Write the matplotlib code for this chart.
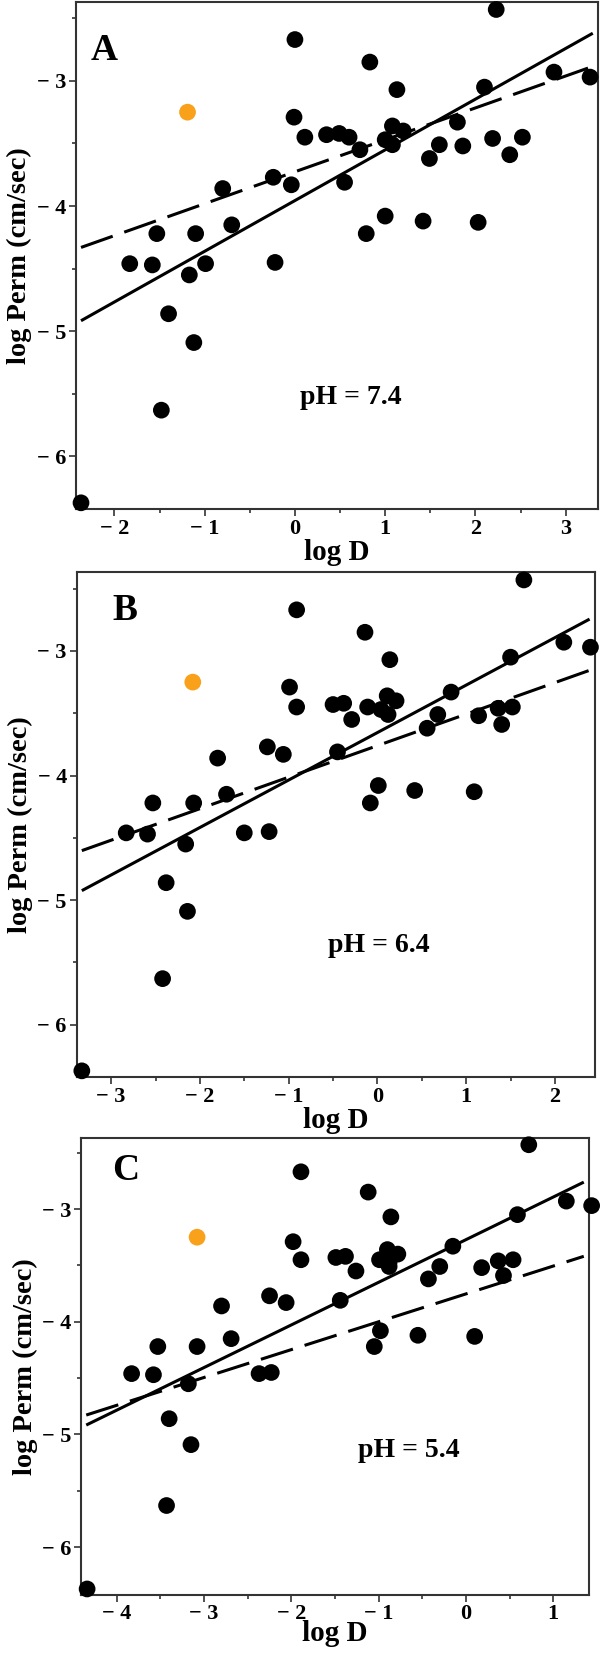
import matplotlib
matplotlib.use("Agg")
import matplotlib.pyplot as plt
import numpy as np
from matplotlib.ticker import MultipleLocator

plt.rcParams["font.family"] = ["Liberation Serif", "DejaVu Serif"]
plt.rcParams["font.weight"] = "bold"

# log Perm (cm/sec), same compounds in every panel
perm = [-2.43, -2.67, -2.85, -2.93, -2.97, -3.07, -3.05, -3.25, -3.29, -3.36,
        -3.40, -3.45, -3.43, -3.42, -3.45, -3.47, -3.33, -3.46, -3.45, -3.51,
        -3.55, -3.51, -3.52, -3.59, -3.62, -3.77, -3.83, -3.81, -3.86, -4.08,
        -4.12, -4.13, -4.15, -4.22, -4.22, -4.22, -4.46, -4.47, -4.46, -4.45,
        -4.55, -4.86, -5.09, -5.63, -6.37]

# log D at the three pH values
logd_74 = [2.23, 0.00, 0.83, 2.87, 3.27, 1.13, 2.10, -1.19, -0.01, 1.08,
           1.20, 0.11, 0.35, 0.49, 0.60, 1.00, 1.80, 2.19, 2.52, 1.08,
           0.72, 1.60, 1.86, 2.38, 1.49, -0.24, -0.04, 0.55, -0.80, 1.00,
           1.42, 2.03, -0.70, -1.53, -1.10, 0.79, -1.83, -1.58, -0.99, -0.22,
           -1.17, -1.40, -1.12, -1.48, -2.37]
logd_64 = [1.65, -0.91, -0.14, 2.10, 2.40, 0.14, 1.50, -2.08, -0.99, 0.11,
           0.21, -0.91, -0.50, -0.38, -0.11, 0.04, 0.83, 1.36, 1.52, 0.12,
           -0.29, 0.68, 1.14, 1.40, 0.56, -1.24, -1.06, -0.45, -1.80, 0.01,
           0.42, 1.09, -1.70, -2.53, -2.07, -0.08, -2.83, -2.59, -1.50, -1.22,
           -2.16, -2.38, -2.14, -2.42, -3.33]
logd_54 = [0.72, -1.89, -1.12, 1.15, 1.44, -0.86, 0.59, -3.08, -1.98, -0.90,
           -0.78, -1.89, -1.49, -1.38, -0.99, -0.88, -0.15, 0.37, 0.54, -0.88,
           -1.26, -0.30, 0.18, 0.43, -0.43, -2.25, -2.06, -1.44, -2.80, -0.98,
           -0.55, 0.10, -2.69, -3.53, -3.08, -1.05, -3.83, -3.58, -2.37, -2.23,
           -3.18, -3.40, -3.15, -3.43, -4.34]

highlight = 7  # orange compound

# regression lines (slope, intercept)
solid_fits = [(0.405, -3.956), (0.381, -3.655), (0.378, -3.272)]
dashed_fits = [(0.255, -3.726), (0.253, -3.760), (0.247, -3.753)]

panel_letters = ["A", "B", "C"]
ph_labels = ["pH = 7.4", "pH = 6.4", "pH = 5.4"]
ph_pos = [(0.62, -5.53), (0.02, -5.36), (-0.66, -5.14)]
letter_pos = [(0.055, 0.905), (0.094, 0.925), (0.088, 0.928)]
xlims = [(-2.43, 3.36), (-3.39, 2.45), (-4.41, 1.41)]
ylim = (-6.42, -2.37)

rects = [[0.126, 0.6924, 0.871, 0.3064],
         [0.1275, 0.3492, 0.864, 0.3049],
         [0.135, 0.0365, 0.8467, 0.2759]]

fig = plt.figure(figsize=(6, 16.55), dpi=100)
orange = "#F9A11B"

for i, logd in enumerate([logd_74, logd_64, logd_54]):
    ax = fig.add_axes(rects[i])
    x = np.array(logd)
    y = np.array(perm)
    cols = ["black"] * len(x)
    cols[highlight] = orange
    ax.scatter(x, y, s=145, c=cols, edgecolors="none", zorder=3, clip_on=False)

    xl = np.array([xlims[i][0] + 0.06, xlims[i][1] - 0.06])
    m, b = solid_fits[i]
    ax.plot(xl, m * xl + b, color="black", lw=2.2, solid_capstyle="butt", zorder=2)
    m, b = dashed_fits[i]
    ax.plot(xl, m * xl + b, color="black", lw=2.2, dashes=(11, 4), zorder=2)

    ax.set_xlim(*xlims[i])
    ax.set_ylim(*ylim)
    ax.xaxis.set_minor_locator(MultipleLocator(0.5))
    ax.yaxis.set_minor_locator(MultipleLocator(0.5))
    xt = [t for t in range(-5, 5) if xlims[i][0] <= t <= xlims[i][1]]
    ax.set_xticks(xt)
    ax.set_xticklabels([("\u2212 " + str(-t)) if t < 0 else str(t) for t in xt])
    yt = [-3, -4, -5, -6]
    ax.set_yticks(yt)
    ax.set_yticklabels(["\u2212 " + str(-t) for t in yt])
    ax.tick_params(which="major", direction="out", length=5, width=1.2,
                   color="#333333", labelsize=16, pad=2)
    ax.tick_params(which="minor", direction="out", length=3, width=1.2, color="#333333")
    for lab in ax.get_xticklabels() + ax.get_yticklabels():
        lab.set_fontweight("bold")
    for sp in ax.spines.values():
        sp.set_color("#333333")
        sp.set_linewidth(1.5)

    ax.set_xlabel("log D", fontsize=21, fontweight="bold",
                  labelpad=0 if i < 2 else -3)
    ax.set_ylabel("log Perm (cm/sec)", fontsize=20.5, fontweight="bold", labelpad=3)

    ax.text(letter_pos[i][0], letter_pos[i][1], panel_letters[i], transform=ax.transAxes,
            fontsize=27, fontweight="bold", ha="center", va="center")
    ax.text(ph_pos[i][0], ph_pos[i][1], ph_labels[i], fontsize=20,
            fontweight="bold", ha="center", va="center")

fig.savefig("out.png", dpi=100)
